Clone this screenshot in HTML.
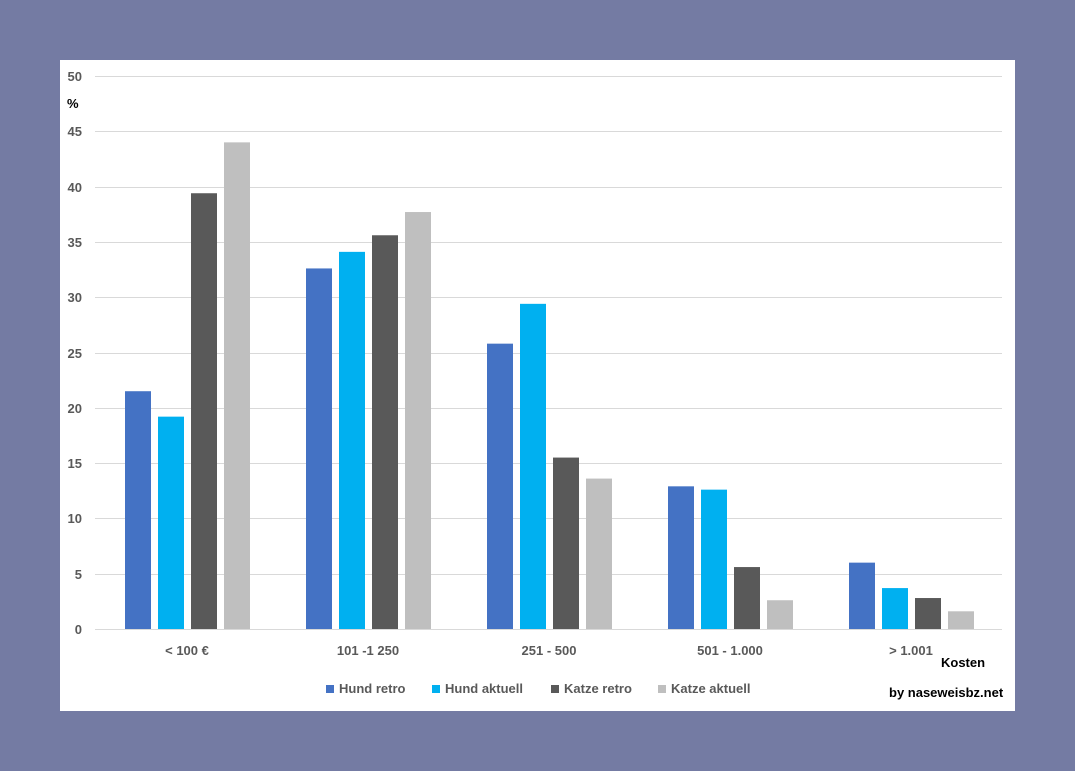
<!DOCTYPE html><html><head><style>body{margin:0;background:#747ba3}svg{display:block}text{font-family:"Liberation Sans",sans-serif;font-weight:bold;font-size:13px}</style></head><body>
<svg width="1075" height="771" xmlns="http://www.w3.org/2000/svg">
<rect width="1075" height="771" fill="#747ba3"/>
<rect x="60" y="60" width="955" height="651" fill="#fff"/>
<g stroke="#d9d9d9" stroke-width="1">
<line x1="95" x2="1002" y1="76.5" y2="76.5"/><line x1="95" x2="1002" y1="131.5" y2="131.5"/><line x1="95" x2="1002" y1="187.5" y2="187.5"/><line x1="95" x2="1002" y1="242.5" y2="242.5"/><line x1="95" x2="1002" y1="297.5" y2="297.5"/><line x1="95" x2="1002" y1="353.5" y2="353.5"/><line x1="95" x2="1002" y1="408.5" y2="408.5"/><line x1="95" x2="1002" y1="463.5" y2="463.5"/><line x1="95" x2="1002" y1="518.5" y2="518.5"/><line x1="95" x2="1002" y1="574.5" y2="574.5"/><line x1="95" x2="1002" y1="629.5" y2="629.5"/>
</g>
<g fill="#595959" text-anchor="end">
<text x="82" y="81">50</text><text x="82" y="136">45</text><text x="82" y="192">40</text><text x="82" y="247">35</text><text x="82" y="302">30</text><text x="82" y="358">25</text><text x="82" y="413">20</text><text x="82" y="468">15</text><text x="82" y="523">10</text><text x="82" y="579">5</text><text x="82" y="634">0</text>
</g>
<text x="67" y="108" fill="#000">%</text>
<g id="bars"></g>
<g fill="#595959" text-anchor="middle">
<text x="187" y="655">&lt; 100 €</text><text x="368" y="655">101 -1 250</text><text x="549" y="655">251 - 500</text><text x="730" y="655">501 - 1.000</text><text x="911" y="655">&gt; 1.001</text>
</g>
<text x="941" y="667" fill="#000">Kosten</text>
<text x="889" y="697" fill="#000">by naseweisbz.net</text>
<rect x="326" y="685" width="8" height="8" fill="#4472c4"/><text x="339" y="693" fill="#595959">Hund retro</text>
<rect x="432" y="685" width="8" height="8" fill="#00b0f0"/><text x="445" y="693" fill="#595959">Hund aktuell</text>
<rect x="551" y="685" width="8" height="8" fill="#595959"/><text x="564" y="693" fill="#595959">Katze retro</text>
<rect x="658" y="685" width="8" height="8" fill="#bfbfbf"/><text x="671" y="693" fill="#595959">Katze aktuell</text>
</svg>
<script>
var d=[[21.5,19.2,39.4,44.0],[32.6,34.1,35.6,37.7],[25.8,29.4,15.5,13.6],[12.9,12.6,5.6,2.6],[6.0,3.7,2.8,1.6]];
var c=["#4472c4","#00b0f0","#595959","#bfbfbf"],g=document.getElementById("bars"),s="";
d.forEach(function(r,i){r.forEach(function(v,j){var h=v*11.06,x=125+i*181+j*33;s+='<rect x="'+x+'" y="'+(629-h)+'" width="26" height="'+h+'" fill="'+c[j]+'"/>';});});
g.innerHTML=s;
</script>
</body></html>
